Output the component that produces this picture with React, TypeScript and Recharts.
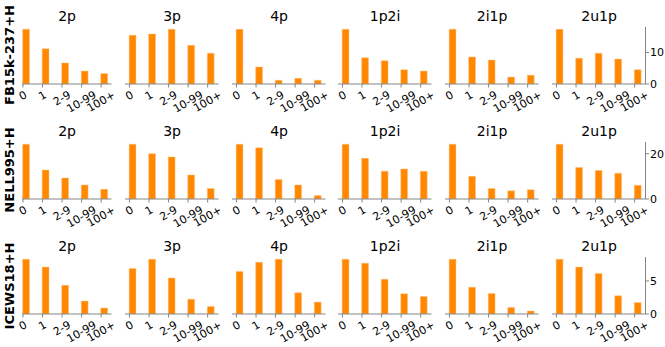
import React from "react";
import { BarChart, Bar, XAxis, YAxis } from "recharts";

// bucket labels on the x axis
const CATEGORIES = ["0", "1", "2-9", "10-99", "100+"];
const QUERY_TYPES = ["2p", "3p", "4p", "1p2i", "2i1p", "2u1p"];
const DATASETS = ["FB15k-237+H", "NELL995+H", "ICEWS18+H"];

// FB15k-237+H
const fb2p = [17.4, 11.2, 6.7, 4.1, 3.3];
const fb3p = [15.5, 15.9, 17.4, 12.3, 9.8];
const fb4p = [17.4, 5.4, 1.2, 1.8, 1.2];
const fb1p2i = [17.4, 8.3, 7.4, 4.5, 4.1];
const fb2i1p = [17.4, 8.6, 7.6, 2.2, 2.8];
const fb2u1p = [17.4, 8.2, 9.8, 7.9, 4.5];

// NELL995+H
const nell2p = [24.2, 12.8, 9.3, 6.2, 4.3];
const nell3p = [24.2, 20.0, 18.6, 10.6, 4.6];
const nell4p = [24.2, 22.6, 8.6, 6.2, 1.6];
const nell1p2i = [24.2, 18.0, 12.3, 13.3, 12.2];
const nell2i1p = [24.2, 10.0, 4.6, 3.6, 4.1];
const nell2u1p = [24.2, 13.9, 12.6, 11.4, 6.1];

// ICEWS18+H
const icews2p = [8.3, 7.1, 4.35, 1.95, 0.9];
const icews3p = [6.9, 8.3, 5.45, 2.25, 1.15];
const icews4p = [6.45, 7.85, 8.3, 3.2, 1.8];
const icews1p2i = [8.3, 7.7, 5.25, 3.05, 2.65];
const icews2i1p = [8.3, 4.05, 3.1, 1.0, 0.45];
const icews2u1p = [8.3, 7.1, 6.15, 2.75, 1.75];

const ROWS = [
  [fb2p, fb3p, fb4p, fb1p2i, fb2i1p, fb2u1p],
  [nell2p, nell3p, nell4p, nell1p2i, nell2i1p, nell2u1p],
  [icews2p, icews3p, icews4p, icews1p2i, icews2i1p, icews2u1p],
];
const ROW_TICKS = [
  [0, 10],
  [0, 20],
  [0, 5],
];

// layout
const COL_LEFT = [22.3, 125.3, 232.3, 338.3, 445.3, 552.3];
const COL_W = [89.5, 93.5, 93.5, 93.5, 93.5, 93.5];
const COL_DOMAIN: [number, number][] = [
  [-0.05, 4.53],
  [-0.23, 4.555],
  [-0.23, 4.555],
  [-0.23, 4.555],
  [-0.23, 4.555],
  [-0.23, 4.555],
];
const ROW_TOP = [26.7, 141.7, 257.3];
const BOX_H = 57;
const X_AXIS_H = 50;
const SIDE = 14; // room for the rotated labels that stick out of the box
const BAR_WIDTH = 0.35; // in category units, bars aligned on the left edge

const FONT = "'DejaVu Sans', sans-serif";
const TICK_FS = 11;
const SPINE = "#858585";
const BAR_COLOR = "#ff8800";

const CHAR_EM: Record<string, number> = { "-": 0.361, "+": 0.838 };
const textWidth = (s: string) =>
  s.split("").reduce((w, c) => w + (CHAR_EM[c] ?? 0.636), 0) * TICK_FS;

function RotatedTick(props: any) {
  const { x, y, payload } = props;
  const label = CATEGORIES[payload.value] ?? "";
  const w = textWidth(label);
  const h = TICK_FS * 1.17;
  const cy = y + (0.5 * w + 0.866 * h) / 2;
  return (
    <text
      x={x}
      y={cy}
      textAnchor="middle"
      dominantBaseline="central"
      fontSize={TICK_FS}
      fontFamily={FONT}
      fill="#000"
      transform={`rotate(-30 ${x} ${cy})`}
    >
      {label}
    </text>
  );
}

function Panel({ values, row, col }: { values: number[]; row: number; col: number }) {
  const isLast = col === QUERY_TYPES.length - 1;
  const rowMax = Math.max(...ROWS[row].flat());
  const yMax = rowMax * 1.04;
  const dom = COL_DOMAIN[col];
  const boxW = COL_W[col];
  const yW = isLast ? 24 : 0;
  const right = isLast ? 1 : SIDE;
  const barPx = (BAR_WIDTH * boxW) / (dom[1] - dom[0]);
  const table = CATEGORIES.map((label, i) => ({
    label,
    x: i + BAR_WIDTH / 2,
    value: values[i],
  }));

  return (
    <div
      style={{
        position: "absolute",
        left: COL_LEFT[col] - SIDE,
        top: ROW_TOP[row] - 1,
      }}
    >
      <BarChart
        width={SIDE + boxW + right + yW}
        height={BOX_H + 2 + X_AXIS_H}
        data={table}
        margin={{ top: 1, right, bottom: 1, left: SIDE }}
        style={{ overflow: "visible" }}
      >
        <XAxis
          xAxisId="b"
          dataKey="x"
          type="number"
          domain={dom}
          allowDataOverflow
          ticks={[0, 1, 2, 3, 4]}
          interval={0}
          height={X_AXIS_H}
          stroke={SPINE}
          tickSize={3.5}
          tickMargin={1}
          tick={<RotatedTick />}
        />
        <XAxis
          xAxisId="t"
          dataKey="x"
          type="number"
          orientation="top"
          domain={dom}
          allowDataOverflow
          height={0}
          tick={false}
          tickLine={false}
          stroke={SPINE}
        />
        <YAxis
          yAxisId="r"
          orientation="right"
          type="number"
          domain={[0, yMax]}
          allowDataOverflow
          ticks={ROW_TICKS[row]}
          interval={0}
          width={yW}
          stroke={SPINE}
          tickSize={3.5}
          tickMargin={1}
          tickLine={isLast}
          tick={isLast ? { fontSize: TICK_FS, fontFamily: FONT, fill: "#000" } : false}
        />
        <YAxis
          yAxisId="l"
          orientation="left"
          type="number"
          domain={[0, yMax]}
          allowDataOverflow
          width={0}
          tick={false}
          tickLine={false}
          stroke={SPINE}
        />
        <Bar
          xAxisId="b"
          yAxisId="r"
          dataKey="value"
          fill={BAR_COLOR}
          stroke="#ffc080"
          strokeWidth={0.5}
          barSize={barPx}
          isAnimationActive={false}
        />
      </BarChart>
    </div>
  );
}

export default function App() {
  return (
    <div
      style={{
        position: "absolute",
        left: 0,
        top: 0,
        width: 665,
        height: 347,
        overflow: "hidden",
        background: "#fff",
        fontFamily: FONT,
      }}
    >
      {DATASETS.map((name, r) => (
        <div
          key={name}
          style={{
            position: "absolute",
            left: 10 - 60,
            top: ROW_TOP[r] + BOX_H / 2 - 9,
            width: 120,
            height: 18,
            lineHeight: "18px",
            fontSize: 13,
            fontWeight: "bold",
            textAlign: "center",
            transform: "rotate(-90deg)",
            whiteSpace: "nowrap",
          }}
        >
          {name}
        </div>
      ))}
      {ROWS.map((row, r) =>
        row.map((values, c) => (
          <React.Fragment key={`${r}-${c}`}>
            <Panel values={values} row={r} col={c} />
            <div
              style={{
                position: "absolute",
                left: COL_LEFT[c],
                width: COL_W[c],
                top: ROW_TOP[r] - 19,
                height: 16,
                lineHeight: "16px",
                fontSize: 14,
                textAlign: "center",
                whiteSpace: "nowrap",
              }}
            >
              {QUERY_TYPES[c]}
            </div>
          </React.Fragment>
        ))
      )}
    </div>
  );
}
